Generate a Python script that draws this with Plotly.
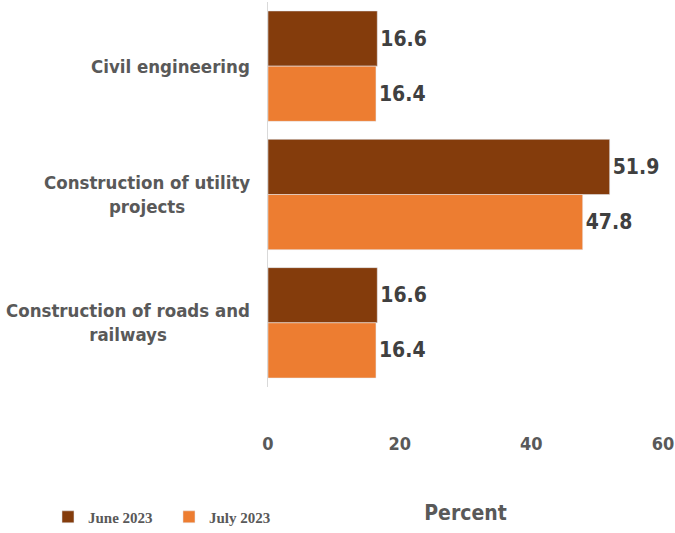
import plotly.graph_objects as go

categories = ["Civil engineering", "Construction of utility projects", "Construction of roads and railways"]
cat_labels = ["Civil engineering", "Construction of utility<br>projects", "Construction of roads and<br>railways"]
june_2023 = [16.6, 51.9, 16.6]
july_2023 = [16.4, 47.8, 16.4]
series_names = ["June 2023", "July 2023"]
x_ticks = [0, 20, 40, 60]

FONT = "DejaVu Sans Condensed, Liberation Sans Narrow, Roboto Condensed, Roboto, sans-serif"
GREY = "#595959"
DARK = "#404040"

fig = go.Figure()
fig.add_trace(go.Bar(
    y=categories, x=june_2023, name=series_names[0], orientation="h",
    marker=dict(color="#843C0C"),
    text=[f"{v:.1f}" for v in june_2023], textposition="outside",
    textfont=dict(family=FONT, size=21, color=DARK, weight="bold"),
    cliponaxis=False,
))
fig.add_trace(go.Bar(
    y=categories, x=july_2023, name=series_names[1], orientation="h",
    marker=dict(color="#ED7D31"),
    text=[f"{v:.1f}" for v in july_2023], textposition="outside",
    textfont=dict(family=FONT, size=21, color=DARK, weight="bold"),
    cliponaxis=False,
))

for cat, lab in zip(categories, cat_labels):
    fig.add_annotation(
        x=-0.04, xref="paper", y=cat, yref="y", text=lab, showarrow=False,
        xanchor="right", align="center",
        font=dict(family=FONT, size=18.5, color=GREY, weight="bold"),
    )

fig.update_layout(
    width=675, height=533,
    margin=dict(l=268, r=12, t=2, b=146, autoexpand=False),
    paper_bgcolor="white", plot_bgcolor="white",
    barmode="group", bargap=0.14, bargroupgap=0,
    showlegend=True,
    legend=dict(
        orientation="h",
        x=-0.557, y=-0.295, xanchor="left", yanchor="top",
        font=dict(family="Liberation Serif", size=15, color=GREY, weight="bold"),
        itemwidth=30, entrywidth=76, traceorder="normal",
    ),
)
fig.update_xaxes(
    range=[0, 60], tickvals=x_ticks, showgrid=False, zeroline=False,
    showline=False, ticks="", ticklabelstandoff=44, ticklabeloverflow="allow",
    automargin=False,
    tickfont=dict(family=FONT, size=18, color=GREY, weight="bold"),
    title=dict(text="Percent", standoff=52,
               font=dict(family=FONT, size=21, color=GREY, weight="bold")),
)
fig.update_yaxes(
    categoryorder="array", categoryarray=categories, autorange="reversed",
    showticklabels=False, showgrid=False, zeroline=False, automargin=False,
    showline=True, linecolor="#D9D9D9", linewidth=1, ticks="",
)

fig.write_html("out.html", config={"displayModeBar": False},
               post_script="document.body.style.margin='0';")
